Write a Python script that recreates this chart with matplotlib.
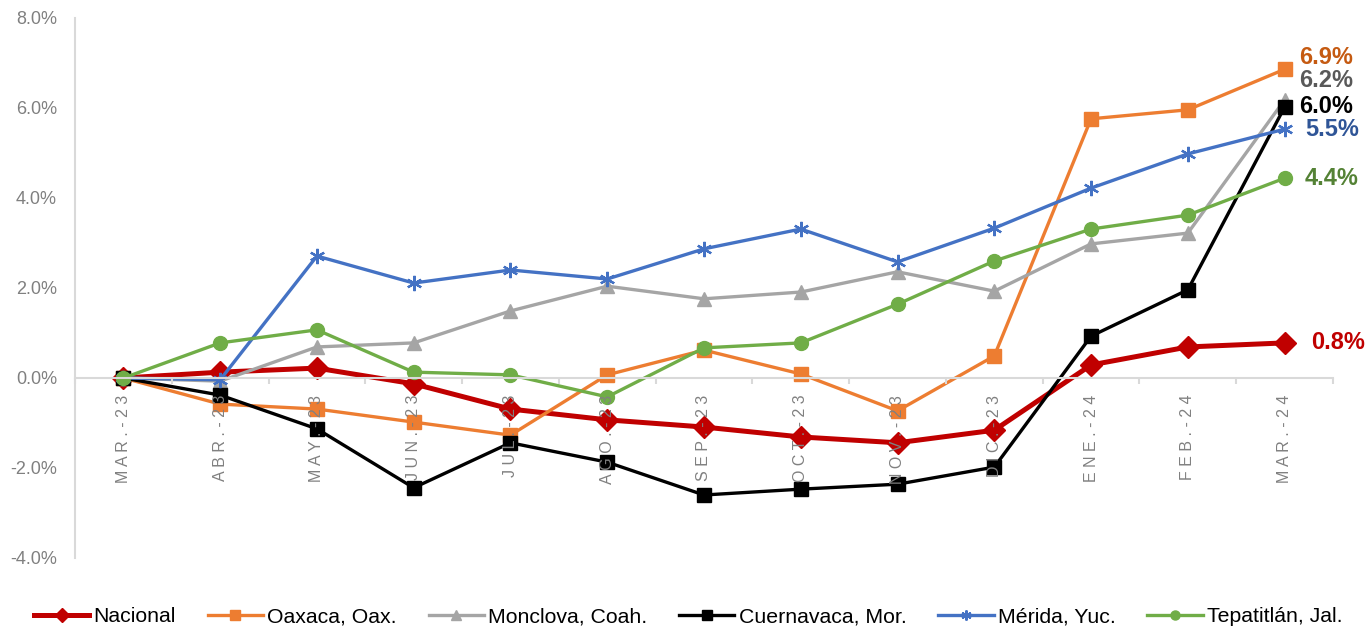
import matplotlib
matplotlib.use("Agg")
import matplotlib.pyplot as plt
import numpy as np

plt.rcParams['font.family'] = ['Liberation Sans', 'DejaVu Sans']

months = ["MAR.-23", "ABR.-23", "MAY.-23", "JUN.-23", "JUL.-23", "AGO.-23", "SEP.-23",
          "OCT.-23", "NOV.-23", "DIC.-23", "ENE.-24", "FEB.-24", "MAR.-24"]

nacional   = [0.00, 0.13, 0.22, -0.13, -0.69, -0.93, -1.09, -1.31, -1.44, -1.16, 0.29, 0.69, 0.78]
oaxaca     = [0.00, -0.58, -0.69, -0.98, -1.27, 0.07, 0.62, 0.09, -0.73, 0.49, 5.76, 5.96, 6.86]
monclova   = [0.00, -0.07, 0.69, 0.78, 1.49, 2.04, 1.76, 1.91, 2.36, 1.93, 2.98, 3.22, 6.18]
cuernavaca = [0.00, -0.38, -1.13, -2.44, -1.44, -1.87, -2.60, -2.47, -2.36, -1.98, 0.93, 1.96, 6.02]
merida     = [0.00, -0.04, 2.71, 2.11, 2.40, 2.20, 2.87, 3.31, 2.58, 3.33, 4.22, 4.98, 5.53]
tepatitlan = [0.00, 0.78, 1.07, 0.13, 0.07, -0.42, 0.67, 0.78, 1.64, 2.60, 3.31, 3.62, 4.44]

names = ["Nacional", "Oaxaca, Oax.", "Monclova, Coah.", "Cuernavaca, Mor.",
         "Mérida, Yuc.", "Tepatitlán, Jal."]
series = [nacional, oaxaca, monclova, cuernavaca, merida, tepatitlan]
colors = ["#C00000", "#ED7D31", "#A5A5A5", "#000000", "#4472C4", "#70AD47"]
label_colors = ["#C00000", "#C55A11", "#595959", "#000000", "#2F5597", "#548235"]
markers = ["D", "s", "^", "s", (6, 2, 0), "o"]
msizes = [11, 10, 10, 10, 11, 10]
lwidths = [3.6, 2.4, 2.4, 2.4, 2.4, 2.4]
# where the end labels sit (y, data units) so they don't overlap
label_y = [0.78, 7.13, 6.62, 6.04, 5.53, 4.44]
label_x = [12.27, 12.15, 12.15, 12.15, 12.21, 12.21]

fig = plt.figure(figsize=(13.71, 6.28), dpi=100)
ax = fig.add_axes([75/1371, 1 - 558/628, 1258/1371, 540/628])

x = np.arange(len(months))
handles = []
for s, n, c, m, ms, lw in zip(series, names, colors, markers, msizes, lwidths):
    mew = 1.6 if m == (6, 2, 0) else 1
    h, = ax.plot(x, s, color=c, lw=lw, marker=m, ms=ms, mfc=c, mec=c, mew=mew,
                 label=n, clip_on=False)
    handles.append(h)

for s, c, lx, ly in zip(series, label_colors, label_x, label_y):
    ax.text(lx, ly, f"{s[-1]:.1f}%", color=c, fontsize=17, fontweight='bold',
            ha='left', va='center')

ax.set_xlim(-0.5, len(months) - 0.5)
ax.set_ylim(-4, 8)
ax.set_yticks(np.arange(-4, 9, 2))
ax.set_yticklabels([f"{v:.1f}%" for v in np.arange(-4, 9, 2)])
ax.set_xticks(x)
ax.set_xticklabels([" ".join(mo) for mo in months])
ax.set_xticks(np.arange(-0.5, len(months), 1), minor=True)

for sp in ["top", "right"]:
    ax.spines[sp].set_visible(False)
ax.spines["left"].set_color("#D9D9D9")
ax.spines["left"].set_linewidth(1.5)
ax.spines["bottom"].set_position(("data", 0))
ax.spines["bottom"].set_color("#D9D9D9")
ax.spines["bottom"].set_linewidth(1.5)
ax.set_axisbelow(False)

ax.tick_params(axis='y', length=0, pad=13, labelsize=13, labelcolor="#808080")
ax.tick_params(axis='x', which='major', length=0, pad=12, labelsize=11.5,
               labelcolor="#808080", labelrotation=90)
ax.tick_params(axis='x', which='minor', length=4, width=1.5, color="#D9D9D9", direction='out')

fig.legend(handles=handles, loc='center', bbox_to_anchor=(0.502, 1 - 617/628), ncol=6,
           frameon=False, fontsize=15.3, handlelength=2.6, handletextpad=0.2,
           columnspacing=1.5, markerscale=0.65)

fig.savefig("out.png", dpi=100)
